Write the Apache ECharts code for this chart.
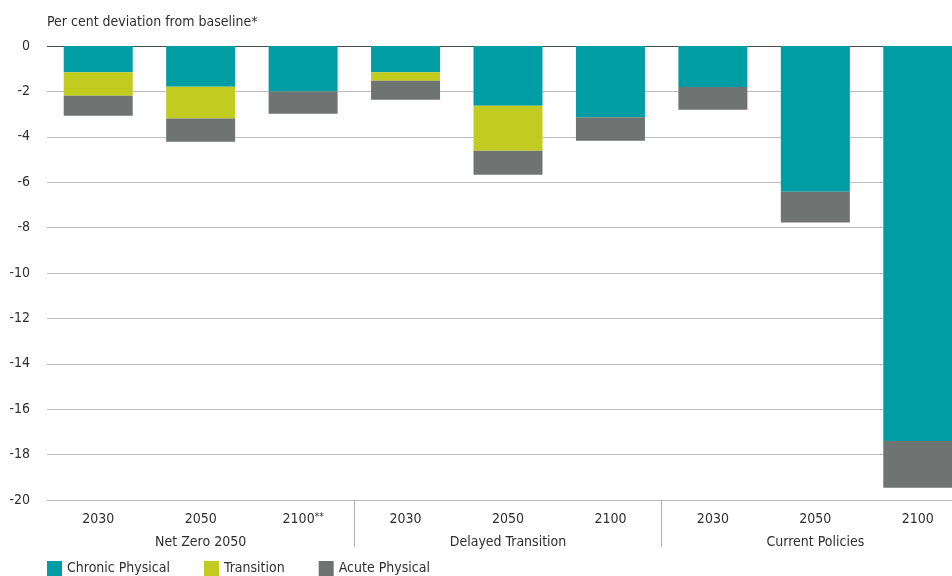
<!DOCTYPE html>
<html lang="en">
<head>
    <meta charset="UTF-8">
    <title>Per cent deviation from baseline</title>
    <script src="https://cdn.jsdelivr.net/npm/echarts@6/dist/echarts.min.js"></script>
    <style>
        html, body { margin: 0; padding: 0; background: #fff; overflow: hidden; }
        /* 图比窗口略宽, 右侧最后一根柱子被截掉 */
        #main { width: 972px; height: 576px; }
    </style>
</head>
<body>
<div id="main"></div>
<script type="text/javascript">
    // 数据
    var years = ['2030', '2050', '2100**', '2030', '2050', '2100', '2030', '2050', '2100'];
    var scenarios = ['Net Zero 2050', 'Delayed Transition', 'Current Policies'];
    var chronic = [-1.16, -1.79, -2.0, -1.16, -2.63, -3.14, -1.81, -6.42, -17.4];
    var transition = [-1.03, -1.40, 0, -0.37, -1.98, 0, 0, 0, 0];
    var acute = [-0.88, -1.03, -0.98, -0.84, -1.06, -1.03, -1.0, -1.36, -2.06];
    var yTicks = [-20, -18, -16, -14, -12, -10, -8, -6, -4, -2, 0];

    var font = '"Liberation Sans Narrow", "DejaVu Sans Condensed", sans-serif';
    var txt = '#2f2f2f';

    // 网格线颜色, 0 线深色
    var gridColors = yTicks.map(function (v) {
        return v === 0 ? '#4a4f52' : '#bdbdbd';
    });

    var myChart = echarts.init(document.getElementById('main'));
    var option = {
        animation: false,
        textStyle: { fontFamily: font },
        title: {
            text: 'Per cent deviation from baseline*',
            left: 42,
            top: 10,
            textStyle: { fontFamily: font, fontSize: 14, fontWeight: 'normal', color: txt }
        },
        legend: {
            left: 42,
            top: 556,
            itemWidth: 15,
            itemHeight: 15,
            itemGap: 34,
            icon: 'rect',
            textStyle: { fontFamily: font, fontSize: 14, color: txt },
            data: ['Chronic Physical', 'Transition', 'Acute Physical']
        },
        grid: {
            left: 47,
            top: 46,
            width: 922,
            height: 454
        },
        xAxis: [
            {
                type: 'category',
                data: years,
                position: 'bottom',
                axisLine: { show: false, onZero: false },
                axisTick: { show: false },
                axisLabel: {
                    margin: 12,
                    fontFamily: font,
                    fontSize: 14,
                    color: txt,
                    // 星号做成上标
                    formatter: function (v) {
                        var m = v.match(/^(\d+)(\*+)$/);
                        return m ? m[1] + '{s|' + m[2] + '}' : v;
                    },
                    rich: {
                        s: { fontSize: 10, fontFamily: font, color: txt, verticalAlign: 'top', lineHeight: 10, padding: [0, 0, 4, 0] }
                    }
                }
            },
            {
                type: 'category',
                data: scenarios,
                position: 'bottom',
                axisLine: { show: false, onZero: false },
                axisTick: {
                    show: true,
                    length: 47,
                    interval: function (i) { return i > 0; },
                    lineStyle: { color: '#b0b0b0', width: 1 }
                },
                axisLabel: { margin: 35, fontFamily: font, fontSize: 14, color: txt }
            }
        ],
        yAxis: {
            type: 'value',
            min: -20,
            max: 0,
            interval: 2,
            axisLine: { show: false },
            axisTick: { show: false },
            axisLabel: { margin: 17, fontFamily: font, fontSize: 14, color: txt },
            splitLine: { show: true, lineStyle: { color: gridColors, width: 1 } }
        },
        series: [
            {
                name: 'Chronic Physical',
                type: 'bar',
                stack: 'total',
                barWidth: 69,
                itemStyle: { color: '#009ea4' },
                data: chronic
            },
            {
                name: 'Transition',
                type: 'bar',
                stack: 'total',
                barWidth: 69,
                itemStyle: { color: '#c2cb1f' },
                data: transition
            },
            {
                name: 'Acute Physical',
                type: 'bar',
                stack: 'total',
                barWidth: 69,
                itemStyle: { color: '#6f7473' },
                data: acute
            }
        ]
    };
    myChart.setOption(option);
</script>
</body>
</html>
